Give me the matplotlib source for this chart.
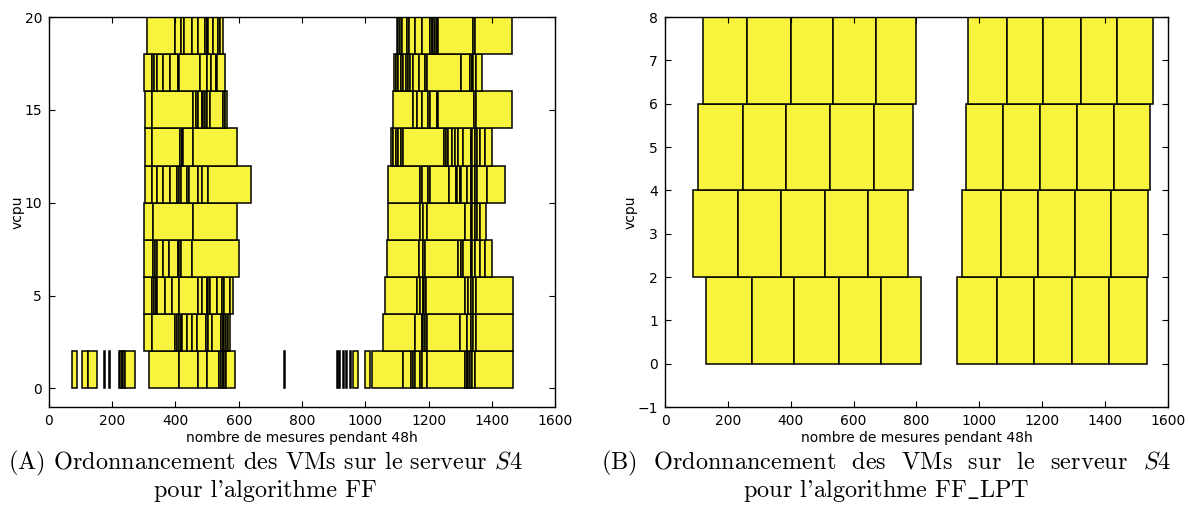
import matplotlib
matplotlib.use("Agg")
import matplotlib.pyplot as plt

# ---------------- data ----------------
# FF schedule: each vcpu row (height 2) holds groups of consecutive edges;
# bars are drawn between consecutive edges of a group.
ff_row_base = [0, 2, 4, 6, 8, 10, 12, 14, 16, 18]
ff_r0 = [[72, 89], [103, 124, 151], [174, 177], [189, 192],
         [222, 226, 230, 234, 240, 272],
         [316, 412, 472, 499, 538, 543, 549, 554, 559, 588],
         [743, 746], [910, 913], [918, 921], [931, 934], [939, 942],
         [951, 954], [962, 976], [999, 1015],
         [1020, 1120, 1144, 1152, 1157, 1173, 1178, 1194, 1315, 1321, 1326,
          1332, 1337, 1347, 1466]]
ff_r1 = [[300, 325, 400, 406, 411, 416, 422, 435, 451, 467, 495, 502, 514,
          544, 549, 554, 560, 565, 572],
         [1057, 1157, 1178, 1184, 1189, 1194, 1300, 1321, 1333, 1342, 1350, 1466]]
ff_r2 = [[300, 327, 332, 337, 342, 367, 388, 412, 472, 483, 499, 504, 509,
          530, 548, 553, 572, 583],
         [1062, 1163, 1173, 1181, 1187, 1192, 1315, 1326, 1333, 1342, 1350, 1466]]
ff_r3 = [[300, 330, 335, 340, 361, 380, 407, 412, 416, 451, 601],
         [1068, 1171, 1181, 1189, 1294, 1302, 1310, 1333, 1339, 1347, 1363,
          1379, 1400]]
ff_r4 = [[300, 328, 456, 593],
         [1073, 1173, 1181, 1194, 1315, 1333, 1339, 1346, 1352, 1363, 1382]]
ff_r5 = [[304, 325, 340, 361, 383, 406, 412, 418, 437, 443, 472, 483, 504, 639],
         [1073, 1173, 1180, 1199, 1205, 1265, 1286, 1291, 1298, 1304, 1321,
          1333, 1339, 1346, 1352, 1384, 1442]]
ff_r6 = [[304, 325, 414, 420, 423, 456, 593],
         [1080, 1089, 1097, 1104, 1112, 1120, 1249, 1255, 1262, 1273, 1283,
          1294, 1310, 1333, 1339, 1346, 1352, 1363, 1379, 1400]]
ff_r7 = [[304, 325, 456, 465, 472, 483, 488, 493, 499, 509, 551, 556], [556, 563],
         [1087, 1152, 1163, 1178, 1199, 1205, 1226, 1231, 1344, 1350, 1463]]
ff_r8 = [[300, 327, 332, 340, 361, 383, 407, 412, 477, 499, 511, 527, 532, 556],
         [1091, 1097, 1104, 1112, 1120, 1128, 1134, 1141, 1150, 1171, 1189,
          1194, 1302, 1331, 1337, 1342, 1350, 1368]]
ff_r9 = [[309, 398, 416, 428, 451, 472, 493, 499, 504, 520, 535, 541, 551],
         [1099, 1104, 1110, 1115, 1131, 1139, 1157, 1178, 1205, 1210, 1215,
          1220, 1226, 1231, 1342, 1347, 1463]]
ff_rows = [ff_r0, ff_r1, ff_r2, ff_r3, ff_r4, ff_r5, ff_r6, ff_r7, ff_r8, ff_r9]

# FF_LPT schedule
lpt_row_base = [0, 2, 4, 6]
lpt_r0 = [[129, 276, 411, 552, 686, 815], [930, 1057, 1175, 1296, 1413, 1532]]
lpt_r1 = [[88, 231, 368, 509, 645, 774], [946, 1068, 1185, 1303, 1420, 1537]]
lpt_r2 = [[106, 249, 386, 525, 664, 790], [956, 1076, 1194, 1312, 1427, 1543]]
lpt_r3 = [[120, 262, 400, 535, 671, 798], [965, 1087, 1201, 1322, 1437, 1553]]
lpt_rows = [lpt_r0, lpt_r1, lpt_r2, lpt_r3]

ff_yticks = [0, 5, 10, 15, 20]
lpt_yticks = [-1, 0, 1, 2, 3, 4, 5, 6, 7, 8]
x_ticks = [0, 200, 400, 600, 800, 1000, 1200, 1400, 1600]
xlabel = "nombre de mesures pendant 48h"
ylabel = "vcpu"
caption_a = ["(A) Ordonnancement des VMs sur le serveur $S4$", "pour l'algorithme FF"]
caption_b = ["(B)  Ordonnancement  des  VMs  sur  le  serveur  $S4$", "pour l'algorithme FF$\\_$LPT"]

# ---------------- style ----------------
plt.rcParams.update({
    "font.family": "DejaVu Sans",
    "xtick.direction": "in", "ytick.direction": "in",
    "xtick.top": True, "ytick.right": True,
    "xtick.major.size": 4, "ytick.major.size": 4,
    "xtick.labelsize": 10, "ytick.labelsize": 10,
    "axes.linewidth": 1.0,
    "mathtext.fontset": "cm",
    "axes.formatter.use_mathtext": False,
})
BAR_COLOR = "#F8F33C"

fig = plt.figure(figsize=(11.89, 5.27), dpi=100)
ax1 = fig.add_axes([0.0412, 0.2277, 0.4256, 0.7400])
ax2 = fig.add_axes([0.5593, 0.2277, 0.4230, 0.7400])


def draw(ax, rows, bases):
    for base, groups in zip(bases, rows):
        for edges in groups:
            lefts = edges[:-1]
            widths = [b - a for a, b in zip(edges[:-1], edges[1:])]
            ax.barh([base] * len(lefts), widths, left=lefts, height=2,
                    align="edge", color=BAR_COLOR, edgecolor="black",
                    linewidth=1.1)


draw(ax1, ff_rows, ff_row_base)
draw(ax2, lpt_rows, lpt_row_base)

ax1.set_xlim(0, 1600)
ax1.set_ylim(-1, 20)
ax1.set_yticks(ff_yticks)
ax2.set_xlim(0, 1600)
ax2.set_ylim(-1, 8)
ax2.set_yticks(lpt_yticks)
ax2.set_yticklabels(["\u22121" if t < 0 else str(t) for t in lpt_yticks])

for ax in (ax1, ax2):
    ax.set_xticks(x_ticks)
    ax.set_xlabel(xlabel, fontsize=10, labelpad=2)
    ax.set_ylabel(ylabel, fontsize=10, labelpad=0)
    ax.tick_params(pad=5)

cap_font = dict(family="cmr10", fontsize=17.5, va="center")
fig.text(265 / 1189, 1 - 463 / 527, caption_a[0], ha="center", **cap_font)
fig.text(265 / 1189, 1 - 491 / 527, caption_a[1], ha="center", **cap_font)
fig.text(601 / 1189, 1 - 463 / 527, caption_b[0], ha="left", **cap_font)
fig.text(886 / 1189, 1 - 491 / 527, caption_b[1], ha="center", **cap_font)

fig.savefig("out.png", dpi=100, facecolor="white")
